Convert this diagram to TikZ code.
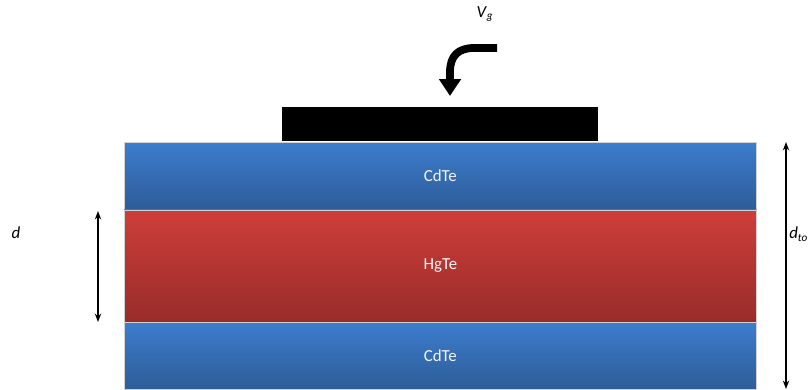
\documentclass[tikz,border=0pt]{standalone}
\usepackage{fontspec}
\setmainfont{Carlito}
\usetikzlibrary{positioning, arrows.meta, shadings}

\definecolor{cdtop}{RGB}{60,125,205}
\definecolor{cdbot}{RGB}{46,92,152}
\definecolor{hgtop}{RGB}{206,62,58}
\definecolor{hgbot}{RGB}{152,44,42}

\tikzset{
    layer/.style={rectangle, inner sep=0pt, draw=gray!35, line width=0.4pt,
                  minimum width=15.8cm, text=white!92!gray, font=\large},
    measure/.style={line width=1.1pt, {Stealth[length=6pt,width=4.5pt]}-{Stealth[length=6pt,width=4.5pt]}}
}

\begin{document}
\begin{tikzpicture}[x=0.025cm, y=-0.025cm, every node/.append style={font=\large}]
    \useasboundingbox (0,0) rectangle (808,389);
    %% layers
    \node[layer, anchor=north west, minimum height=1.675cm, top color=cdtop, bottom color=cdbot] (cdup) at (124,142) {CdTe};
    \node[layer, below=0pt of cdup, minimum height=2.8cm, top color=hgtop, bottom color=hgbot] (hg) {HgTe};
    \node[layer, below=0pt of hg, minimum height=1.675cm, top color=cdtop, bottom color=cdbot] (cddown) {CdTe};

    %% gate
    \node[rectangle, fill=black, inner sep=0pt, minimum width=7.9cm, minimum height=0.85cm, above=0.025cm of cdup] (gate) {};

    %% gate voltage
    \node (vg) at (485,14) {\textit{V}\textsubscript{\textit{g}}};
    \coordinate (vstart) at (497,48);
    \coordinate (vend) at (450,96);
    \draw[line width=5.5pt, -{Triangle[length=12pt,width=15pt]}] (vstart) -- (474,48) .. controls (458,48) and (450,56) .. (450,72) -- (vend);

    %% thickness arrows
    \coordinate (dtop) at (98,211);
    \coordinate (dbot) at (98,322);
    \draw[measure] (dtop) -- (dbot);
    \node (d) at (16,233) {\textit{d}};

    \coordinate (ttop) at (786,142);
    \coordinate (tbot) at (786,389);
    \draw[measure] (ttop) -- (tbot);
    \node[anchor=west, inner sep=0pt] (dto) at (789,234) {\textit{d}\textsubscript{\textit{to}}};
\end{tikzpicture}
\end{document}
